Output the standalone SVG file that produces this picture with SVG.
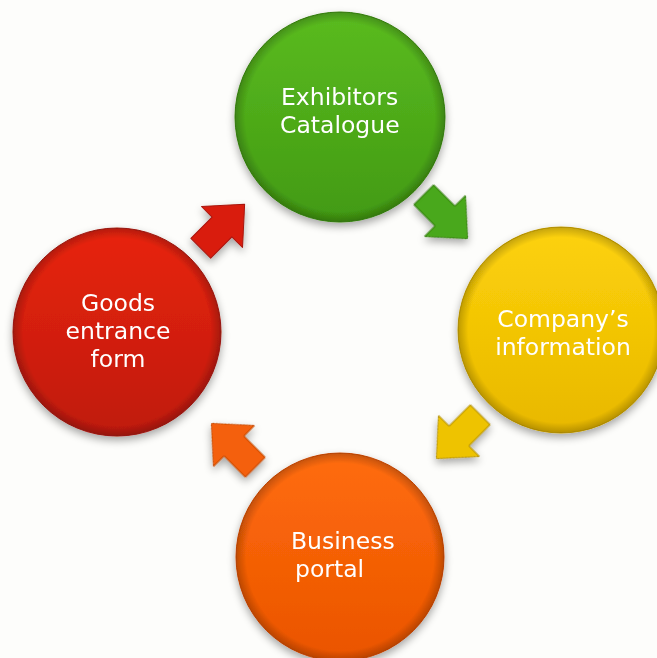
<svg xmlns="http://www.w3.org/2000/svg" width="657" height="658" viewBox="0 0 657 658">
<defs>
<linearGradient id="gG" x1="0" y1="0" x2="0" y2="1"><stop offset="0" stop-color="#5abb20"/><stop offset="1" stop-color="#429a12"/></linearGradient>
<linearGradient id="gY" x1="0" y1="0" x2="0" y2="1"><stop offset="0" stop-color="#fdd20a"/><stop offset="1" stop-color="#e8b800"/></linearGradient>
<linearGradient id="gR" x1="0" y1="0" x2="0" y2="1"><stop offset="0" stop-color="#e8240f"/><stop offset="1" stop-color="#bf1a0b"/></linearGradient>
<linearGradient id="gO" x1="0" y1="0" x2="0" y2="1"><stop offset="0" stop-color="#ff6c0c"/><stop offset="1" stop-color="#ea5400"/></linearGradient>
<radialGradient id="rim" cx="0.5" cy="0.5" r="0.5"><stop offset="0.9" stop-color="#000" stop-opacity="0"/><stop offset="1" stop-color="#000" stop-opacity="0.22"/></radialGradient>
<filter id="sh" x="-20%" y="-20%" width="140%" height="140%"><feGaussianBlur in="SourceAlpha" stdDeviation="4"/><feOffset dx="0" dy="4"/><feComponentTransfer><feFuncA type="linear" slope="0.35"/></feComponentTransfer><feMerge><feMergeNode/><feMergeNode in="SourceGraphic"/></feMerge></filter>
<path id="arr" d="M-30,-14 L0,-14 L0,-29 L32,0 L0,29 L0,14 L-30,14 Z"/>
</defs>
<style>
text{font-family:"DejaVu Sans","Open Sans",sans-serif;font-size:23.5px;fill:#fff}
.c{stroke-width:1}
.a{stroke-width:1;stroke-linejoin:round}
</style>
<rect width="657" height="658" fill="#fdfdfb"/>
<g id="connectors">
<g filter="url(#sh)">
<use href="#arr" transform="translate(222,227) rotate(-45)" fill="#d91e0c" stroke="#a8150a" class="a"/>
<use href="#arr" transform="translate(445,216) rotate(45)" fill="#4aa81a" stroke="#2f7a0c" class="a"/>
<use href="#arr" transform="translate(459,436) rotate(135)" fill="#eec304" stroke="#b08c00" class="a"/>
<use href="#arr" transform="translate(234,446) rotate(-135)" fill="#f4600a" stroke="#c04500" class="a"/>
</g>
</g>
<g id="n-exhibitors" filter="url(#sh)">
<circle cx="340" cy="117" r="105" fill="url(#gG)" stroke="#3a8a10" class="c"/>
<circle cx="340" cy="117" r="105" fill="url(#rim)"/>
<text x="281" y="105">Exhibitors</text>
<text x="280" y="133">Catalogue</text>
</g>
<g id="n-company" filter="url(#sh)">
<circle cx="561" cy="330" r="103" fill="url(#gY)" stroke="#c9a000" class="c"/>
<circle cx="561" cy="330" r="103" fill="url(#rim)"/>
<text x="563" y="327" text-anchor="middle">Company’s</text>
<text x="563" y="355" text-anchor="middle">information</text>
</g>
<g id="n-goods" filter="url(#sh)">
<circle cx="117" cy="332" r="104" fill="url(#gR)" stroke="#a8150a" class="c"/>
<circle cx="117" cy="332" r="104" fill="url(#rim)"/>
<text x="118" y="311" text-anchor="middle">Goods</text>
<text x="118" y="339" text-anchor="middle">entrance</text>
<text x="118" y="367" text-anchor="middle">form</text>
</g>
<g id="n-business" filter="url(#sh)">
<circle cx="340" cy="557" r="104" fill="url(#gO)" stroke="#d04800" class="c"/>
<circle cx="340" cy="557" r="104" fill="url(#rim)"/>
<text x="291" y="549">Business</text>
<text x="295" y="577">portal</text>
</g>
</svg>
